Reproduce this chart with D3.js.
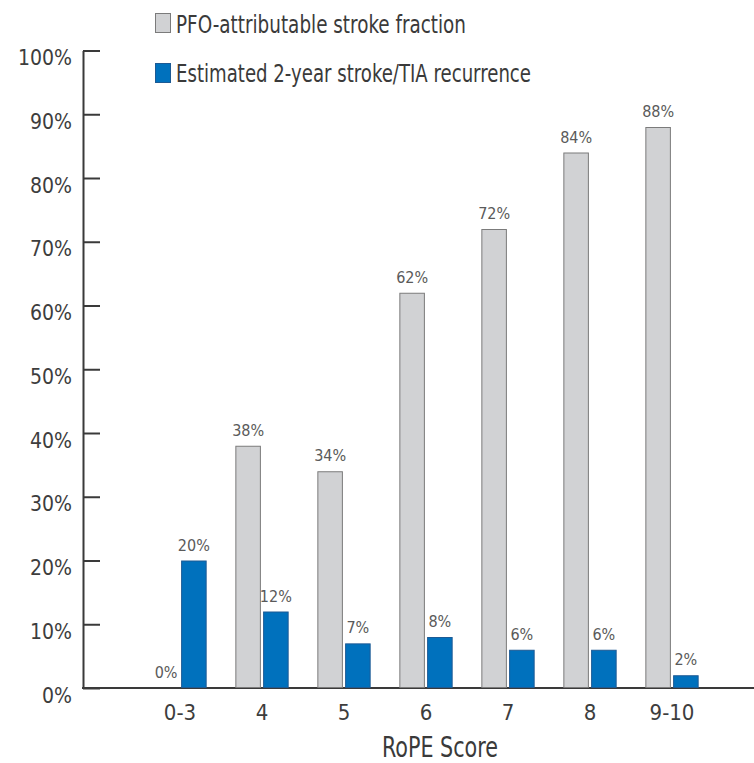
<!DOCTYPE html>
<html>
<head>
<meta charset="utf-8">
<script src="https://cdn.jsdelivr.net/npm/d3@7"></script>
<style>
  html, body { margin: 0; padding: 0; background: #fff; }
  svg text { font-family: "Liberation Sans Narrow", "Arial Narrow", "DejaVu Sans Condensed", sans-serif; }
</style>
</head>
<body>
<svg id="chart" width="754" height="763"></svg>
<script>
// RoPE score groups and the two series (percent)
const categories = ["0-3", "4", "5", "6", "7", "8", "9-10"];
const pfoFraction = [0, 38, 34, 62, 72, 84, 88];
const recurrence = [20, 12, 7, 8, 6, 6, 2];
const seriesNames = ["PFO-attributable stroke fraction", "Estimated 2-year stroke/TIA recurrence"];
const yTicks = [0, 10, 20, 30, 40, 50, 60, 70, 80, 90, 100];

const colors = { pfo: "#d1d2d4", rec: "#0071bd" };
const strokes = { pfo: "#7b7b7b", rec: "#1d5a94" };

const svg = d3.select("#chart");
const W = 754;
const axisX = 83, baseY = 688, topY = 50.5;

const y = d3.scaleLinear().domain([0, 100]).range([baseY, topY]);
const x = d3.scaleBand().domain(categories).range([139, 713])
  .paddingInner(0.35).paddingOuter(0.175);
const xs = d3.scaleBand().domain(["pfo", "rec"]).range([0, x.bandwidth()]).paddingInner(0.08);

// Y axis with inward ticks
const yAxis = d3.axisLeft(y).tickValues(yTicks).tickFormat(d => d + "%")
  .tickSizeInner(-17).tickSizeOuter(0).tickPadding(11);
const gy = svg.append("g").attr("transform", `translate(${axisX},0)`).call(yAxis);
gy.select(".domain").attr("stroke", "#3a3a3a").attr("stroke-width", 2);
gy.selectAll(".tick line").attr("stroke", "#3a3a3a").attr("stroke-width", 2);
gy.selectAll(".tick text").attr("font-size", 21).attr("fill", "#3d3d3d")
  .attr("dy", null).attr("y", 14);

// Baseline running to the right edge
svg.append("line").attr("x1", axisX - 1).attr("x2", W).attr("y1", baseY).attr("y2", baseY)
  .attr("stroke", "#3a3a3a").attr("stroke-width", 2);

// Category labels
const xAxis = d3.axisBottom(x).tickSize(0).tickPadding(0);
const gx = svg.append("g").attr("transform", `translate(0,${baseY})`).call(xAxis);
gx.select(".domain").remove();
gx.selectAll(".tick text").attr("font-size", 22).attr("fill", "#3d3d3d")
  .attr("dy", null).attr("y", 32);

// Bars
const rows = categories.map((c, i) => ({ cat: c, vals: [
  { key: "pfo", v: pfoFraction[i] }, { key: "rec", v: recurrence[i] }] }));

const groups = svg.append("g").selectAll("g").data(rows).join("g")
  .attr("transform", d => `translate(${x(d.cat)},0)`);

groups.selectAll("rect").data(d => d.vals.filter(e => e.v > 0)).join("rect")
  .attr("x", d => xs(d.key) + 0.5)
  .attr("width", xs.bandwidth() - 1)
  .attr("y", d => y(d.v) + 0.5)
  .attr("height", d => baseY - 1 - y(d.v))
  .attr("fill", d => colors[d.key])
  .attr("stroke", d => strokes[d.key])
  .attr("stroke-width", 1);

groups.selectAll("text.val").data(d => d.vals).join("text")
  .attr("class", "val")
  .attr("x", d => xs(d.key) + xs.bandwidth() / 2)
  .attr("y", d => y(d.v) - 10)
  .attr("text-anchor", "middle")
  .attr("font-size", 16)
  .attr("fill", "#5a5a5a")
  .text(d => d.v + "%");

// Legend
const legend = [
  { key: "pfo", y: 13, base: 33, len: 290 },
  { key: "rec", y: 63, base: 82, len: 355 }
];
legend.forEach((l, i) => {
  svg.append("rect").attr("x", 155.5).attr("y", l.y + 0.5).attr("width", 15).attr("height", 19)
    .attr("fill", colors[l.key]).attr("stroke", strokes[l.key]).attr("stroke-width", 1);
  svg.append("text").attr("x", 176).attr("y", l.base).attr("font-size", 25)
    .attr("fill", "#3a3a3a").attr("textLength", l.len).attr("lengthAdjust", "spacingAndGlyphs")
    .text(seriesNames[i]);
});

// Axis title
svg.append("text").attr("x", 382).attr("y", 757).attr("font-size", 28)
  .attr("fill", "#3a3a3a").attr("textLength", 116).attr("lengthAdjust", "spacingAndGlyphs")
  .text("RoPE Score");
</script>
</body>
</html>
